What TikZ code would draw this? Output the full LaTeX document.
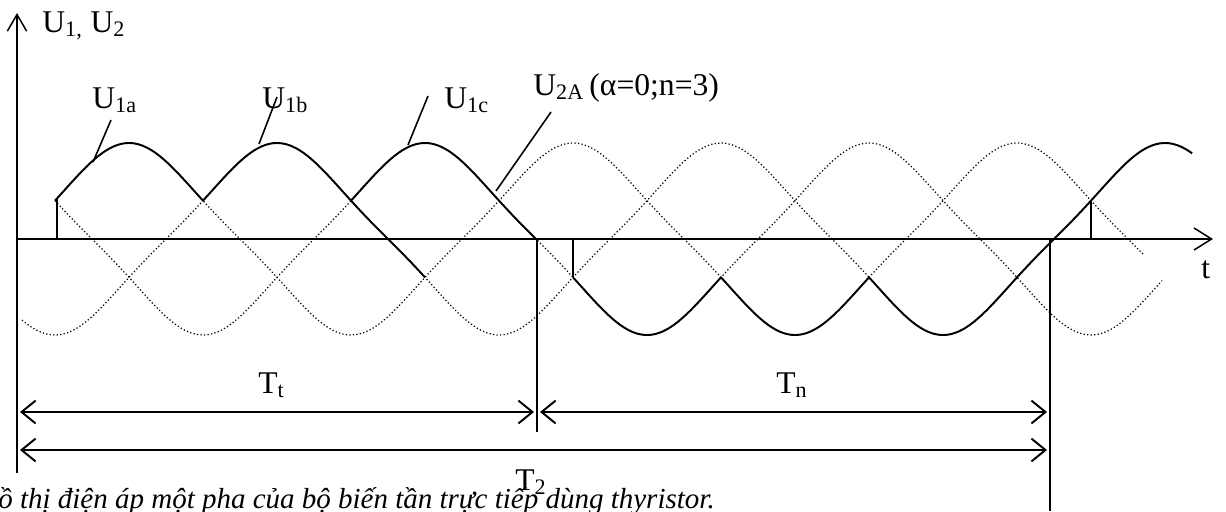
\documentclass[tikz,border=0pt]{standalone}
\usepackage{fontspec}
\setmainfont{Liberation Serif}
\usetikzlibrary{arrows.meta}

\tikzset{
  declare function={wv(\t,\p)=239-96*(0.933*cos(0.810811*(\t-\p))+0.067*cos(2.432432*(\t-\p)));},
  wave/.style={line width=1.1pt,line join=round},
  phase/.style={dash pattern=on 0.7pt off 1.3pt,line width=0.7pt},
  axis/.style={line width=0.85pt},
  lbl/.style={font=\fontsize{18}{21}\selectfont,inner sep=0pt,anchor=base west},
  leader/.style={line width=0.9pt},
  dim/.style={{Straight Barb[length=8pt,width=13pt]}-{Straight Barb[length=8pt,width=13pt]},line width=1.1pt}
}

\begin{document}
\begin{tikzpicture}[x=0.02cm,y=-0.02cm]
\useasboundingbox (0,0) rectangle (1226,511);
\clip (0,0) rectangle (1226,511);

% axes
\coordinate (o) at (17,239);
\coordinate (ytop) at (17,13);
\coordinate (ybot) at (17,473);
\coordinate (xend) at (1213,239);
\draw[axis,-{Straight Barb[length=9.5pt,width=11pt]}] (ybot) -- (ytop);
\draw[axis,-{Straight Barb[length=10pt,width=12.5pt]}] (o) -- (xend);
\node[lbl] (ulab) at (42,32) {U\textsubscript{1,}\ U\textsubscript{2}};
\node[lbl] (tlab) at (1201,278) {t};

% phases a, b, c
\draw[phase] plot[domain=55:1143,samples=240] (\x,{wv(\x,129)});
\draw[phase] plot[domain=22:1192,samples=240] (\x,{wv(\x,277)});
\draw[phase] plot[domain=55:1162,samples=240] (\x,{wv(\x,425)});

% output voltage
\coordinate (p0) at (57,239);
\coordinate (p1) at (57,199);
\draw[wave] (o) -- (p0) -- (p1);
\draw[wave] plot[domain=55:203,samples=60] (\x,{wv(\x,129)});
\draw[wave] plot[domain=203:425,samples=80] (\x,{wv(\x,277)});
\draw[wave] plot[domain=351:536,samples=70] (\x,{wv(\x,425)});
\coordinate (n0) at (573,239);
\coordinate (n1) at (573,277);
\draw[wave] (n0) -- (n1);
\draw[wave] plot[domain=573:721,samples=60] (\x,{wv(\x,425)});
\draw[wave] plot[domain=721:869,samples=60] (\x,{wv(\x,129)});
\draw[wave] plot[domain=869:1192,samples=120] (\x,{wv(\x,277)});
\coordinate (q0) at (1054,239);
\coordinate (q1) at (1091,239);
\coordinate (q2) at (1091,201);
\draw[wave] (q0) -- (q1) -- (q2);

% period marks
\coordinate (m1) at (537,239);
\coordinate (m1b) at (537,432);
\coordinate (m2) at (1050,239);
\coordinate (m2b) at (1050,511);
\draw[line width=0.8pt] (m1) -- (m1b);
\draw[line width=0.8pt] (m2) -- (m2b);

\coordinate (tt0) at (20,412);
\coordinate (tt1) at (534,412);
\coordinate (tn0) at (540,412);
\coordinate (tn1) at (1047,412);
\coordinate (t20) at (20,450);
\coordinate (t21) at (1047,450);
\draw[dim] (tt0) -- (tt1);
\draw[dim] (tn0) -- (tn1);
\draw[dim] (t20) -- (t21);
\node[lbl] (tt) at (258,393) {T\textsubscript{t}};
\node[lbl] (tn) at (776,393) {T\textsubscript{n}};
\node[lbl] (t2) at (515,490) {T\textsubscript{2}};

% labels
\node[lbl] (la) at (92,108) {U\textsubscript{1a}};
\node[lbl] (lb) at (262,108) {U\textsubscript{1b}};
\node[lbl] (lc) at (444,108) {U\textsubscript{1c}};
\node[lbl] (ld) at (533,95) {U\textsubscript{2A}\,(α=0;n=3)};
\coordinate (ka0) at (111,120);
\coordinate (ka1) at (93,162);
\coordinate (kb0) at (277,97);
\coordinate (kb1) at (259,144);
\coordinate (kc0) at (428,96);
\coordinate (kc1) at (408,145);
\coordinate (kd0) at (551,112);
\coordinate (kd1) at (496,191);
\draw[leader] (ka0) -- (ka1);
\draw[leader] (kb0) -- (kb1);
\draw[leader] (kc0) -- (kc1);
\draw[leader] (kd0) -- (kd1);

% caption
\node[anchor=base west,inner sep=0pt,font=\fontsize{16.5}{19}\selectfont\itshape] (cap) at (-2,508)
  {\llap{Đ}ồ thị điện áp một pha của bộ biến tần trực tiếp dùng thyristor.};
\end{tikzpicture}
\end{document}
